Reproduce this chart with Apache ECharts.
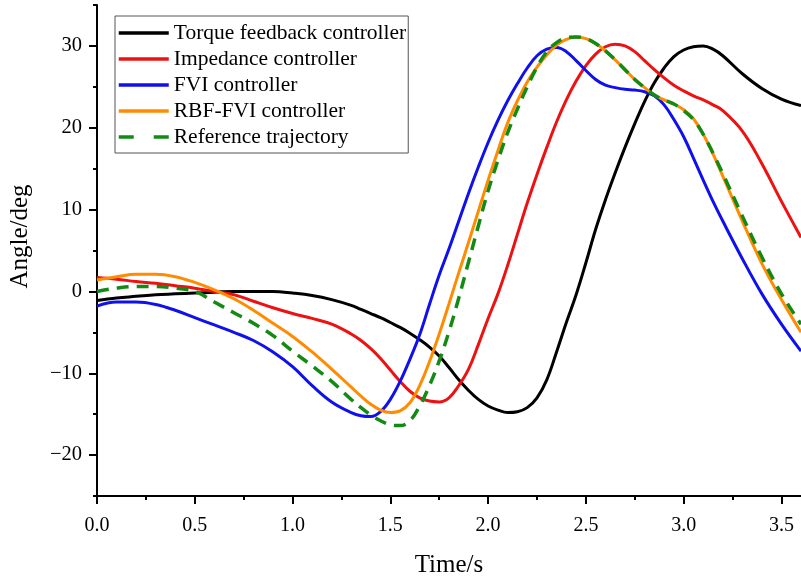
<!DOCTYPE html>
<html>
<head>
<meta charset="utf-8">
<script src="https://cdn.jsdelivr.net/npm/echarts@6/dist/echarts.min.js"></script>
<style>
html,body{margin:0;padding:0;background:#fff;}
#chart{width:801px;height:583px;}
</style>
</head>
<body>
<div id="chart"></div>
<script>
var times = [0,0.1,0.2,0.3,0.4,0.5,0.6,0.7,0.8,0.9,1.0,1.1,1.2,1.3,
  1.35,1.4,1.45,1.5,1.55,1.6,1.65,1.7,1.75,1.8,1.85,1.9,1.95,2.0,2.05,2.1,2.15,2.2,2.25,2.3,2.35,2.4,2.45,2.5,2.55,2.6,2.65,2.7,2.75,2.8,2.85,2.9,2.95,3.0,3.05,3.1,3.15,3.2,
  3.3,3.4,3.5,3.6];

var torqueFeedback = [-1.1,-0.8,-0.6,-0.4,-0.3,-0.2,-0.1,0.0,0.0,0.0,-0.2,-0.5,-1.0,-1.7,
  -2.2,-2.7,-3.2,-3.8,-4.4,-5.1,-5.9,-6.8,-7.9,-9.3,-10.8,-12.1,-13.2,-14.0,-14.5,-14.8,-14.7,-14.2,-13.0,-10.8,-7.4,-3.8,-0.4,3.5,7.6,11.2,14.5,17.6,20.5,23.2,25.5,27.3,28.7,29.5,29.9,30.0,29.6,28.8,
  26.6,24.8,23.5,22.7];
var impedance = [1.7,1.5,1.2,1.0,0.7,0.4,0.0,-0.4,-1.2,-2.0,-2.7,-3.3,-4.0,-5.2,
  -6.0,-7.0,-8.2,-9.6,-11.0,-12.2,-13.0,-13.4,-13.5,-13.0,-11.5,-9.5,-6.5,-3.3,-0.3,3.2,7.0,10.8,14.3,17.6,20.7,23.4,25.7,27.6,29.0,29.9,30.2,30.0,29.3,28.2,27.1,26.1,25.2,24.5,23.9,23.4,22.8,22.1,
  19.6,15.6,11.0,6.6];
var fvi = [-1.8,-1.3,-1.3,-1.6,-2.3,-3.2,-4.1,-5.0,-6.0,-7.4,-9.2,-11.5,-13.5,-14.8,
  -15.2,-15.3,-14.7,-13.2,-11.0,-8.3,-5.3,-1.6,2.0,5.2,8.6,12.0,15.2,18.2,20.9,23.3,25.4,27.3,28.8,29.6,29.8,29.3,28.2,27.0,25.9,25.2,24.9,24.7,24.6,24.4,23.9,22.8,21.0,18.9,16.3,13.6,11.0,8.6,
  4.0,-0.3,-4.0,-7.3];
var rbfFvi = [1.4,1.8,2.1,2.1,1.8,1.1,0.2,-0.9,-2.3,-3.9,-5.5,-7.4,-9.5,-11.7,
  -12.8,-13.8,-14.5,-14.8,-14.6,-13.6,-11.5,-8.6,-5.2,-1.5,2.3,6.0,9.8,13.6,17.2,20.6,23.3,25.6,27.4,28.9,30.1,30.8,31.1,30.9,30.3,29.4,28.3,27.1,25.9,24.9,24.0,23.4,22.9,22.2,21.1,19.2,16.8,14.1,
  8.6,3.4,-1.0,-5.0];
var reference = [0.0,0.4,0.6,0.6,0.4,0.0,-1.3,-2.6,-3.9,-5.4,-7.3,-9.1,-11.0,-13.2,
  -14.2,-15.1,-15.8,-16.3,-16.4,-15.8,-14.0,-11.5,-8.5,-4.9,-0.8,3.6,8.0,12.3,16.0,19.4,22.3,25.0,27.4,29.3,30.4,31.0,31.1,30.9,30.3,29.4,28.3,27.1,25.9,24.9,24.0,23.4,22.9,22.1,21.0,19.2,16.9,14.4,
  9.2,4.2,-0.3,-4.0];

var seriesNames = ['Torque feedback controller','Impedance controller','FVI controller','RBF-FVI controller','Reference trajectory'];
var xMajorTicks = [0,0.5,1.0,1.5,2.0,2.5,3.0,3.5];
var xMinorTicks = [0.25,0.75,1.25,1.75,2.25,2.75,3.25];
var yMajorTicks = [-20,-10,0,10,20,30];
var yMinorTicks = [-25,-15,-5,5,15,25,35];

function pairs(vals){ return times.map(function(t,i){ return [t, vals[i]]; }); }

var FONT = "'Liberation Serif','Times New Roman',serif";
var chart = echarts.init(document.getElementById('chart'), null, {renderer:'canvas'});

function lineSeries(name, vals, color, dashed){
  return {
    name: name, type: 'line', xAxisIndex: 0, yAxisIndex: 0,
    data: pairs(vals), smooth: 0.4, showSymbol: false, symbol: 'none',
    clip: true,
    lineStyle: dashed ? {color: color, width: 3.5, type: [12, 8]} : {color: color, width: 3},
    itemStyle: {color: color},
    z: dashed ? 5 : 3
  };
}

var option = {
  backgroundColor: '#ffffff',
  animation: false,
  grid: {left: 97, right: 0, top: 5, bottom: 81, containLabel: false},
  legend: {
    orient: 'vertical', left: 115, top: 16,
    padding: [6, 2, 5, 2], itemGap: 4, itemWidth: 50, itemHeight: 14,
    borderColor: '#555', borderWidth: 1, backgroundColor: '#ffffff',
    itemStyle: {opacity: 0},
    lineStyle: {width: 3.5},
    textStyle: {fontFamily: FONT, fontSize: 21.5, color: '#000', lineHeight: 21},
    data: seriesNames.map(function(n, i){
      return i === 4 ? {name: n, lineStyle: {type: [15, 20], width: 3.5}} : {name: n};
    })
  },
  xAxis: [
    {
      type: 'value', min: 0, max: 3.6, interval: 0.5, position: 'bottom',
      name: 'Time/s', nameLocation: 'middle', nameGap: 57,
      nameTextStyle: {fontFamily: FONT, fontSize: 25, color: '#000'},
      axisLine: {show: true, onZero: false, lineStyle: {color: '#000', width: 2}},
      axisTick: {show: true, length: 8, lineStyle: {color: '#000', width: 2}, customValues: xMajorTicks},
      axisLabel: {show: true, margin: 20, fontFamily: FONT, fontSize: 20, color: '#000', customValues: xMajorTicks,
        formatter: function(v){ return Number(v).toFixed(1); }},
      splitLine: {show: false}
    },
    {
      type: 'value', min: 0, max: 3.6, interval: 0.5, position: 'bottom',
      axisLine: {show: false, onZero: false},
      axisTick: {show: true, length: 4, lineStyle: {color: '#000', width: 2}, customValues: xMinorTicks},
      axisLabel: {show: false},
      splitLine: {show: false}
    }
  ],
  yAxis: [
    {
      type: 'value', min: -25, max: 35, interval: 5, position: 'left',
      name: 'Angle/deg', nameLocation: 'middle', nameGap: 64, nameRotate: 90,
      nameTextStyle: {fontFamily: FONT, fontSize: 25, color: '#000', padding: [0, 0, 0, 28]},
      axisLine: {show: true, onZero: false, lineStyle: {color: '#000', width: 2}},
      axisTick: {show: true, length: 8, lineStyle: {color: '#000', width: 2}, customValues: yMajorTicks},
      axisLabel: {show: true, margin: 15, fontFamily: FONT, fontSize: 20.5, color: '#000', customValues: yMajorTicks,
        formatter: function(v){ return v < 0 ? '\u2212' + Math.abs(v) : String(v); }},
      splitLine: {show: false}
    },
    {
      type: 'value', min: -25, max: 35, interval: 5, position: 'left',
      axisLine: {show: false, onZero: false},
      axisTick: {show: true, length: 4, lineStyle: {color: '#000', width: 2}, customValues: yMinorTicks},
      axisLabel: {show: false},
      splitLine: {show: false}
    }
  ],
  series: [
    lineSeries(seriesNames[0], torqueFeedback, '#000000', false),
    lineSeries(seriesNames[1], impedance, '#ee1111', false),
    lineSeries(seriesNames[2], fvi, '#1010ee', false),
    lineSeries(seriesNames[3], rbfFvi, '#ff8c00', false),
    lineSeries(seriesNames[4], reference, '#138a13', true)
  ]
};
chart.setOption(option);
</script>
</body>
</html>
